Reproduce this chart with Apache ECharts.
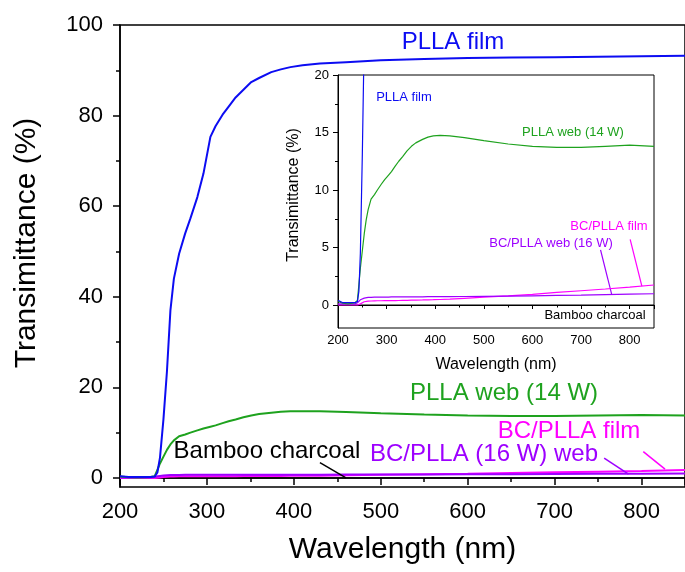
<!DOCTYPE html>
<html>
<head>
<meta charset="utf-8">
<script src="https://cdn.jsdelivr.net/npm/echarts@6.0.0/dist/echarts.min.js"></script>
<style>
  html, body { margin: 0; padding: 0; background: #fff; }
  #chart { width: 685px; height: 572px; }
</style>
</head>
<body>
<div id="chart"></div>
<script>
// wavelength samples (nm) shared by the spectra
const wavelength = [200, 210, 220, 230, 235, 240, 243, 246, 250, 254, 258, 262, 268, 275, 281, 289, 296, 304, 310, 318,
  325, 333, 342, 351, 360, 374, 385, 396, 410, 430, 460, 500, 550, 600, 650, 700, 750, 800, 850]

const pllaFilm = [0.4, 0.2, 0.2, 0.2, 0.2, 0.3, 1.2, 4.5, 13, 23.5, 37, 44, 49.5, 54, 57.3, 62, 67.2, 75.3, 77.7, 80.2,
  82, 84, 85.7, 87.4, 88.3, 89.6, 90.2, 90.7, 91.1, 91.5, 91.8, 92.2, 92.5, 92.7, 92.8, 92.9, 93.0, 93.1, 93.2]

const pllaWeb = [0.3, 0.15, 0.1, 0.15, 0.2, 0.4, 1.8, 3.2, 4.7, 6.2, 7.4, 8.3, 9.2, 9.6, 10.0, 10.5, 10.9, 11.3, 11.6, 12.1,
  12.5, 12.9, 13.4, 13.8, 14.1, 14.4, 14.6, 14.7, 14.75, 14.7, 14.55, 14.3, 14.0, 13.8, 13.7, 13.7, 13.8, 13.9, 13.8]

const bcPllaWeb = [0.1, 0.1, 0.1, 0.1, 0.1, 0.2, 0.35, 0.45, 0.55, 0.6, 0.64, 0.66, 0.67, 0.68, 0.68, 0.69, 0.69, 0.69, 0.7, 0.7,
  0.7, 0.7, 0.7, 0.71, 0.71, 0.71, 0.72, 0.72, 0.72, 0.73, 0.74, 0.75, 0.77, 0.8, 0.83, 0.86, 0.9, 0.94, 0.98]

const bcPllaFilm = [0, 0, 0, 0, 0, 0, 0.05, 0.1, 0.2, 0.28, 0.32, 0.34, 0.35, 0.36, 0.37, 0.37, 0.38, 0.38, 0.38, 0.38,
  0.39, 0.4, 0.41, 0.42, 0.43, 0.44, 0.45, 0.46, 0.48, 0.51, 0.58, 0.68, 0.8, 0.93, 1.09, 1.24, 1.39, 1.55, 1.74]

const bambooWavelength = [200, 850]
const bambooCharcoal = [0, 0]

// tick labels
const mainYTicks = [0, 20, 40, 60, 80, 100]
const mainYMinor = [10, 30, 50, 70, 90]
const insetYTicks = [0, 5, 10, 15, 20]
const insetYMinor = [2.5, 7.5, 12.5, 17.5]

const FONT = 'Liberation Sans, Arial, sans-serif'
const C = {
  blue: '#0c0cf2',
  green: '#1ea21e',
  purple: '#9d00ff',
  magenta: '#ff00ff',
  black: '#000'
}

const pairs = (xs, ys) => xs.map((x, i) => [x, ys[i]])

const leader = (from, to, color, width) => ({
  silent: true,
  symbol: ['none', 'none'],
  label: { show: false },
  lineStyle: { color, width, type: 'solid' },
  data: [[{ coord: from }, { coord: to }]]
})

const makeSeries = (inset) => {
  const w = inset ? 1.2 : 2
  const xi = inset ? 1 : 0
  const yi = inset ? 2 : 0
  const z = inset ? 7 : 2
  const base = { type: 'line', showSymbol: false, xAxisIndex: xi, yAxisIndex: yi, z }
  return [
    { ...base, name: 'Bamboo charcoal', data: pairs(bambooWavelength, bambooCharcoal),
      lineStyle: { color: C.black, width: inset ? 1 : 1.5 },
      markLine: inset ? undefined : leader([430, 3.4], [460, 0], C.black, 1.5) },
    { ...base, name: 'BC/PLLA film', data: pairs(wavelength, bcPllaFilm),
      lineStyle: { color: C.magenta, width: w },
      markLine: inset ? leader([801, 5.7], [825, 1.65], C.magenta, 1.2) : leader([802, 5.8], [827, 1.95], C.magenta, 1.5) },
    { ...base, name: 'BC/PLLA web (16 W)', data: pairs(wavelength, bcPllaWeb),
      lineStyle: { color: C.purple, width: w },
      markLine: inset ? leader([740, 4.8], [763, 0.93], C.purple, 1.2) : leader([757, 4.35], [785, 0.85], C.purple, 1.5) },
    { ...base, name: 'PLLA web (14 W)', data: pairs(wavelength, pllaWeb),
      lineStyle: { color: C.green, width: w } },
    { ...base, name: 'PLLA film', data: pairs(wavelength, pllaFilm),
      lineStyle: { color: C.blue, width: w } }
  ]
}

const label = (text, x, y, color, size) => ({
  type: 'text', x, y, z: 100,
  style: { text, fill: color, font: size + 'px ' + FONT, align: 'center', verticalAlign: 'middle',
    textAlign: 'center', textVerticalAlign: 'middle' }
})

const chart = echarts.init(document.getElementById('chart'))

const option = {
  animation: false,
  backgroundColor: '#fff',
  textStyle: { fontFamily: FONT },
  grid: [
    { left: 120, right: -9, top: 25, bottom: 85, show: true, borderColor: '#000', borderWidth: 1.5, backgroundColor: '#fff' },
    { left: 338, right: 31, top: 75, bottom: 244, show: true, borderColor: '#000', borderWidth: 1, backgroundColor: '#fff', z: 5 }
  ],
  xAxis: [
    {
      gridIndex: 0, type: 'value', min: 200, max: 850, interval: 100,
      name: 'Wavelength (nm)', nameLocation: 'middle', nameGap: 48,
      nameTextStyle: { fontSize: 30, color: '#000', fontFamily: FONT },
      axisLine: { lineStyle: { color: '#000', width: 1.5 } },
      axisTick: { length: 7, lineStyle: { color: '#000', width: 1.5 } },
      minorTick: { show: true, splitNumber: 2, length: 4, lineStyle: { color: '#000', width: 1.5 } },
      axisLabel: { fontSize: 22, color: '#000', margin: 14, showMaxLabel: false, fontFamily: FONT },
      splitLine: { show: false }
    },
    {
      gridIndex: 1, type: 'value', min: 200, max: 850, interval: 100, z: 6,
      name: 'Wavelength (nm)', nameLocation: 'middle', nameGap: 29,
      nameTextStyle: { fontSize: 16, color: '#000', fontFamily: FONT },
      axisLine: { lineStyle: { color: '#000', width: 1 } },
      axisTick: { length: 4, lineStyle: { color: '#000', width: 1 } },
      minorTick: { show: true, splitNumber: 2, length: 2.5, lineStyle: { color: '#000', width: 1 } },
      axisLabel: { fontSize: 13, color: '#000', margin: 6, showMaxLabel: false, fontFamily: FONT },
      splitLine: { show: false }
    }
  ],
  yAxis: [
    {
      gridIndex: 0, type: 'value', min: -2, max: 100, position: 'left',
      name: 'Transimittance (%)', nameLocation: 'middle', nameGap: 78,
      nameTextStyle: { fontSize: 30, color: '#000', fontFamily: FONT, padding: [0, 0, 0, 26] },
      axisLine: { show: true, lineStyle: { color: '#000', width: 1.5 } },
      axisTick: { show: true, length: 7, customValues: mainYTicks, lineStyle: { color: '#000', width: 1.5 } },
      axisLabel: { fontSize: 22, color: '#000', margin: 17, customValues: mainYTicks, fontFamily: FONT },
      splitLine: { show: false }
    },
    {
      gridIndex: 0, type: 'value', min: -2, max: 100, position: 'left',
      axisLine: { show: false },
      axisTick: { show: true, length: 4, customValues: mainYMinor, lineStyle: { color: '#000', width: 1.5 } },
      axisLabel: { show: false },
      splitLine: { show: false }
    },
    {
      gridIndex: 1, type: 'value', min: -2, max: 20, position: 'left', z: 6,
      name: 'Transimittance (%)', nameLocation: 'middle', nameGap: 36,
      nameTextStyle: { fontSize: 16, color: '#000', fontFamily: FONT, padding: [0, 0, 0, 13] },
      axisLine: { show: true, lineStyle: { color: '#000', width: 1 } },
      axisTick: { show: true, length: 5, customValues: insetYTicks, lineStyle: { color: '#000', width: 1 } },
      axisLabel: { fontSize: 13, color: '#000', margin: 9, customValues: insetYTicks, fontFamily: FONT },
      splitLine: { show: false }
    },
    {
      gridIndex: 1, type: 'value', min: -2, max: 20, position: 'left', z: 6,
      axisLine: { show: false },
      axisTick: { show: true, length: 3, customValues: insetYMinor, lineStyle: { color: '#000', width: 1 } },
      axisLabel: { show: false },
      splitLine: { show: false }
    }
  ],
  series: [...makeSeries(false), ...makeSeries(true)],
  graphic: [
    label('PLLA film', 453, 42, C.blue, 24),
    label('PLLA web (14 W)', 504, 393, C.green, 24),
    label('BC/PLLA film', 569, 431, C.magenta, 24),
    label('BC/PLLA (16 W) web', 484, 454, C.purple, 24),
    label('Bamboo charcoal', 267, 451, C.black, 24),
    label('PLLA film', 404, 97, C.blue, 13),
    label('PLLA web (14 W)', 573, 132, C.green, 13),
    label('BC/PLLA film', 609, 226, C.magenta, 13),
    label('BC/PLLA web (16 W)', 551, 243, C.purple, 13),
    label('Bamboo charcoal', 595, 315, C.black, 13)
  ]
}

chart.setOption(option)
</script>
</body>
</html>
